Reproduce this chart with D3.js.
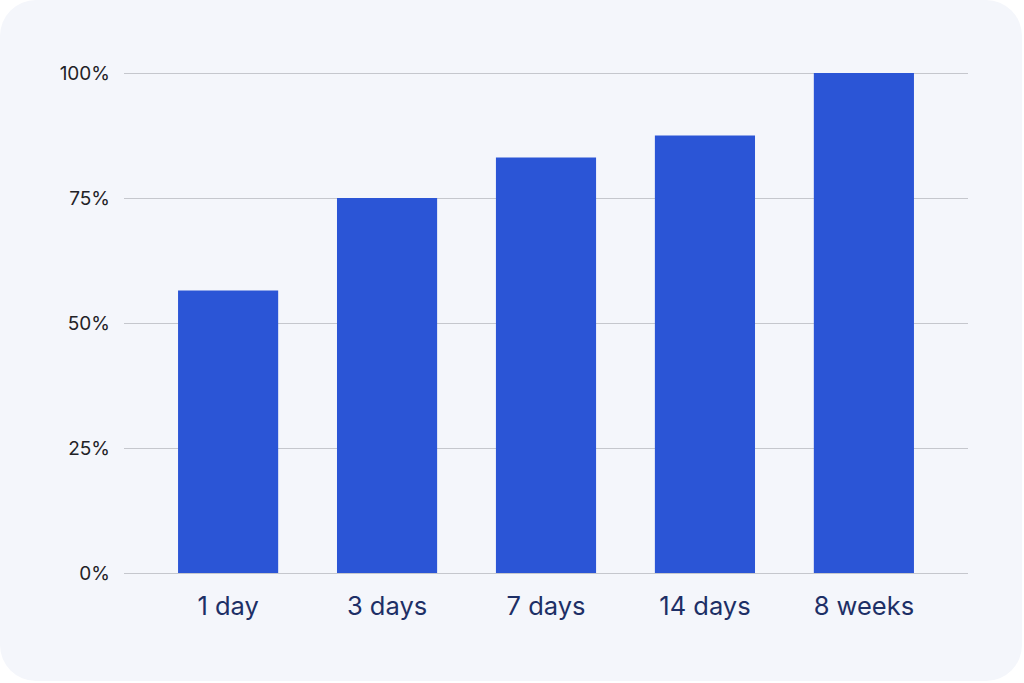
<!DOCTYPE html>
<html>
<head>
<meta charset="utf-8">
<script src="https://cdn.jsdelivr.net/npm/d3@7"></script>
<style>
  body { margin: 0; background: #ffffff; }
  svg { display: block; }
</style>
</head>
<body>
<div id="chart"></div>
<script>
// data
var categories = ["1 day", "3 days", "7 days", "14 days", "8 weeks"];
var values = [56.5, 75, 83.1, 87.5, 100];
var yTicks = [0, 25, 50, 75, 100];

var svgWidth = 1024;
var svgHeight = 683;

var margin = { top: 73, right: 56, bottom: 110, left: 124 };
var width = svgWidth - margin.left - margin.right;
var height = svgHeight - margin.top - margin.bottom;

var svg = d3.select("#chart")
  .append("svg")
    .attr("width", svgWidth)
    .attr("height", svgHeight);

// card background
svg.append("rect")
  .attr("x", 0)
  .attr("y", 0)
  .attr("width", 1022)
  .attr("height", 681)
  .attr("rx", 36)
  .attr("fill", "#f4f6fb");

var chartGroup = svg.append("g")
  .attr("transform", `translate(${margin.left}, ${margin.top})`);

var xScale = d3.scaleBand()
  .domain(categories)
  .range([0, width])
  .paddingInner(0.37)
  .paddingOuter(0.34);

var yScale = d3.scaleLinear()
  .domain([0, 100])
  .range([height, 0]);

// gridlines + y labels
var yAxis = d3.axisLeft(yScale)
  .tickValues(yTicks)
  .tickSize(-width)
  .tickPadding(14)
  .tickFormat(d => d + "%");

chartGroup.append("g")
  .attr("class", "y-axis")
  .call(yAxis)
  .call(g => g.select(".domain").remove())
  .call(g => g.selectAll(".tick line").attr("stroke", "#c5c7cd").attr("stroke-width", 1))
  .call(g => g.selectAll(".tick text")
    .attr("fill", "#222226")
    .style("font-family", "Inter, sans-serif")
    .style("font-size", "19px"));

// bars
chartGroup.selectAll("rect.bar")
  .data(values)
  .enter().append("rect")
    .attr("class", "bar")
    .attr("x", (d, i) => xScale(categories[i]))
    .attr("y", d => yScale(d))
    .attr("width", xScale.bandwidth())
    .attr("height", d => height - yScale(d))
    .attr("fill", "#2b55d6");

// x labels
var xAxis = d3.axisBottom(xScale)
  .tickSize(0)
  .tickPadding(24);

chartGroup.append("g")
  .attr("class", "x-axis")
  .attr("transform", `translate(0, ${height})`)
  .call(xAxis)
  .call(g => g.select(".domain").remove())
  .call(g => g.selectAll(".tick text")
    .attr("fill", "#1d2f66")
    .style("font-family", "Inter, sans-serif")
    .style("font-size", "25.5px"));
</script>
</body>
</html>
